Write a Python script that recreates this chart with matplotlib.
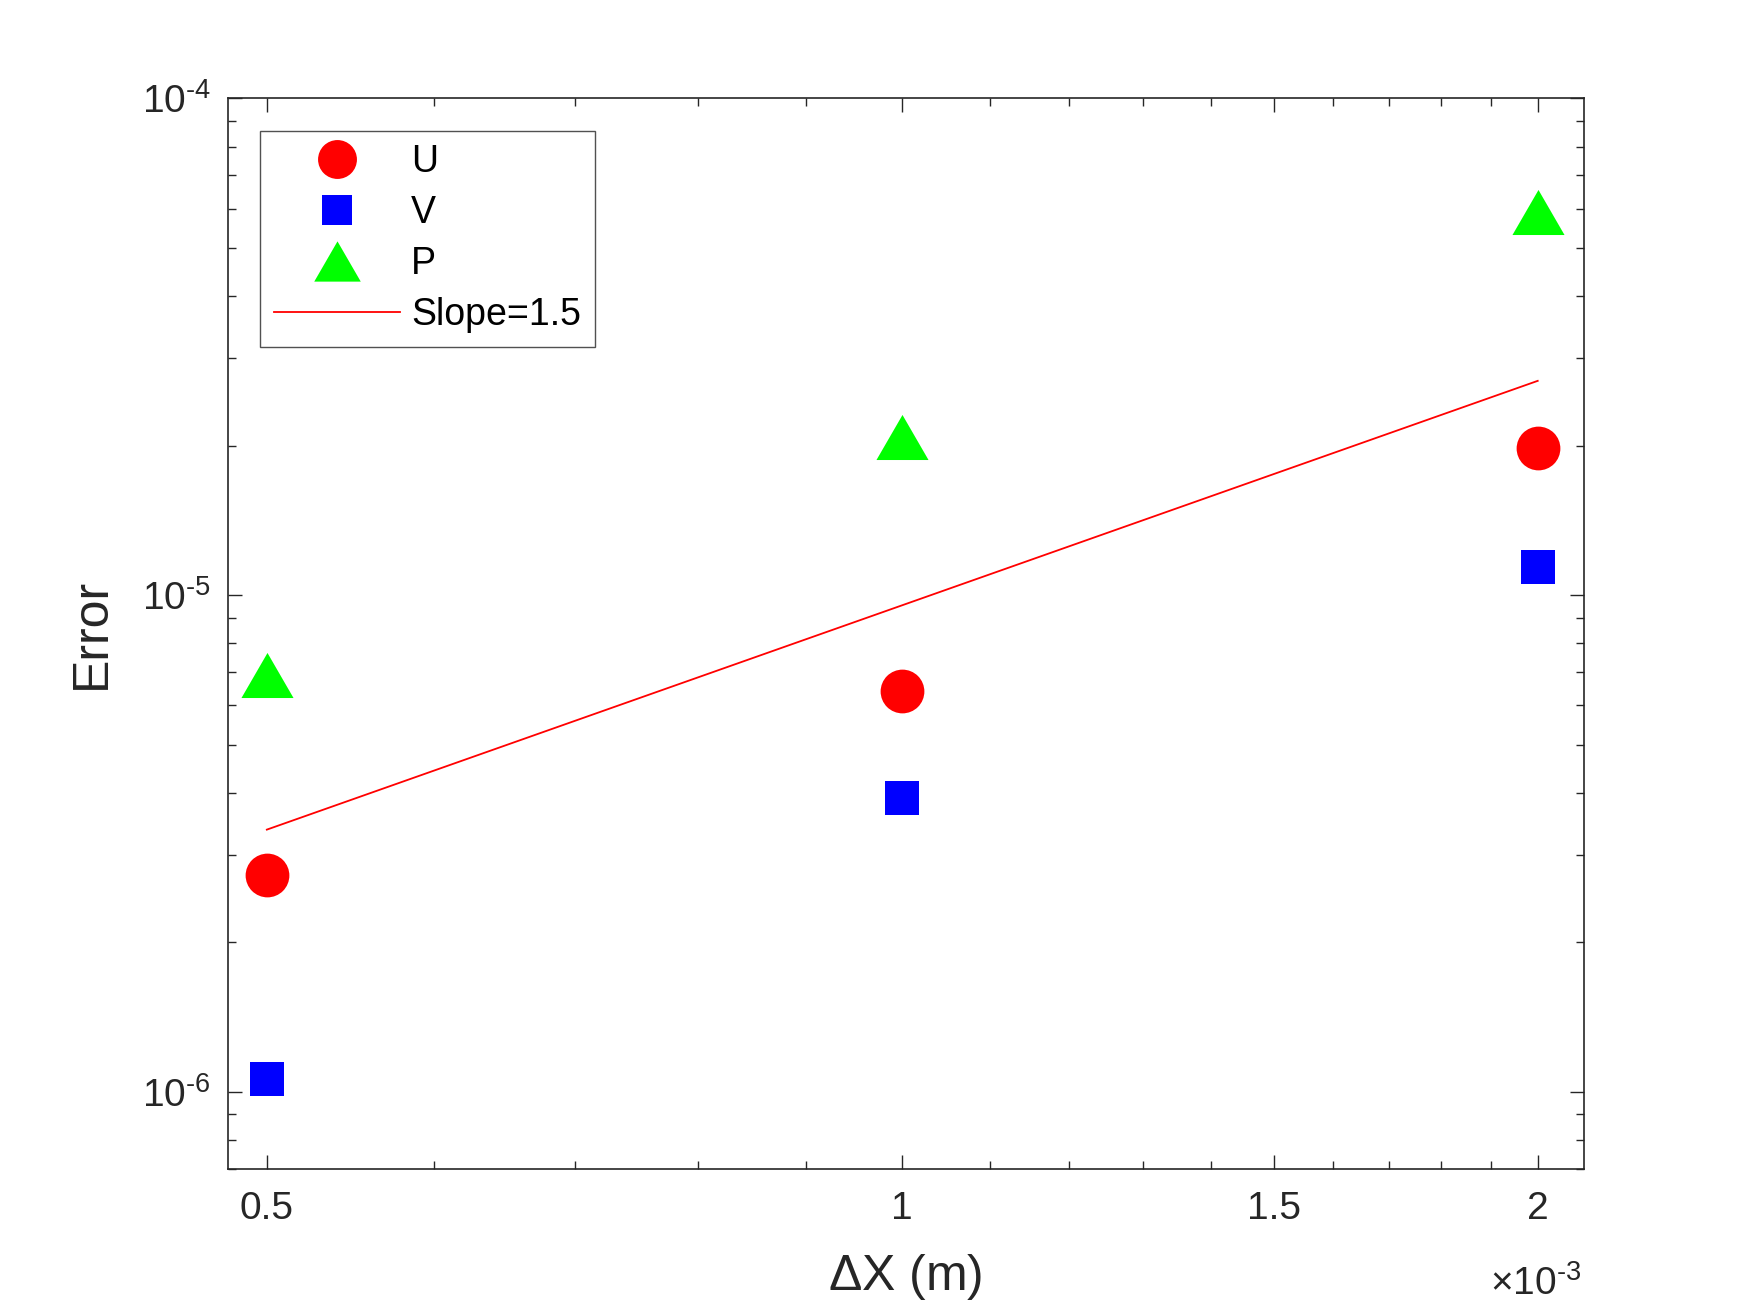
import matplotlib
matplotlib.use("Agg")
import matplotlib.pyplot as plt
from matplotlib.lines import Line2D
from matplotlib.ticker import FixedLocator, NullFormatter, LogLocator

# grid spacing and errors
dx = [0.5e-3, 1.0e-3, 2.0e-3]
err_u = [2.73e-6, 6.41e-6, 1.98e-5]
err_v = [1.06e-6, 3.90e-6, 1.14e-5]
err_p = [6.90e-6, 2.08e-5, 5.90e-5]

# reference slope line (end points)
slope_x = [0.5e-3, 2.0e-3]
slope_y = [3.37e-6, 2.70e-5]

x_major = [0.5e-3, 1.0e-3, 1.5e-3, 2.0e-3]
x_major_labels = ["0.5", "1", "1.5", "2"]
x_minor = [0.6e-3, 0.7e-3, 0.8e-3, 0.9e-3, 1.1e-3, 1.2e-3, 1.3e-3, 1.4e-3,
           1.6e-3, 1.7e-3, 1.8e-3, 1.9e-3]
y_major = [1e-6, 1e-5, 1e-4]
y_major_labels = [r"$\mathregular{10^{\text{-}6}}$", r"$\mathregular{10^{\text{-}5}}$",
                  r"$\mathregular{10^{\text{-}4}}$"]

TXT = "#262626"
plt.rcParams["font.family"] = ["Liberation Sans", "DejaVu Sans"]
plt.rcParams["mathtext.fontset"] = "custom"
plt.rcParams["mathtext.rm"] = "Liberation Sans"

# triangle a bit wider than tall, like matlab's
tri = [(-1, -0.865), (1, -0.865), (0, 0.865), (-1, -0.865)]


def main():
    fig = plt.figure(figsize=(17.5, 13.13), dpi=100)
    fig.patch.set_facecolor("#fff")
    ax = fig.add_axes([0.13, 0.11, 0.775, 0.815])

    ax.plot(dx, err_u, linestyle="none", marker="o", markersize=31.5,
            color="#ff0000", markeredgewidth=0, zorder=3)
    ax.plot(dx, err_v, linestyle="none", marker="s", markersize=25,
            color="#0000ff", markeredgewidth=0, zorder=3)
    ax.plot(dx, err_p, linestyle="none", marker=tri, markersize=37.5,
            color="#00ff00", markeredgewidth=0, zorder=3)
    ax.plot(slope_x, slope_y, color="#ff0000", linewidth=1.3, zorder=2)

    ax.set_xscale("log")
    ax.set_yscale("log")
    ax.set_xlim(0.479e-3, 2.103e-3)
    ax.set_ylim(7.0e-7, 1e-4)

    ax.xaxis.set_major_locator(FixedLocator(x_major))
    ax.xaxis.set_minor_locator(FixedLocator(x_minor))
    ax.set_xticklabels(x_major_labels)
    ax.xaxis.set_minor_formatter(NullFormatter())
    ax.yaxis.set_major_locator(FixedLocator(y_major))
    ax.set_yticklabels(y_major_labels)
    ax.yaxis.set_minor_locator(LogLocator(base=10, subs=range(2, 10)))
    ax.yaxis.set_minor_formatter(NullFormatter())

    ax.tick_params(which="both", direction="in", top=True, right=True,
                   color=TXT, labelcolor=TXT, width=1.0)
    ax.tick_params(which="major", length=10, labelsize=28)
    ax.tick_params(which="minor", length=5.5)
    ax.tick_params(axis="x", which="major", pad=16)
    ax.tick_params(axis="y", which="major", pad=12)
    for sp in ax.spines.values():
        sp.set_color(TXT)
        sp.set_linewidth(1.2)

    ax.set_xlabel(r"$\mathregular{\Delta}$X (m)", fontsize=36, color=TXT)
    ax.set_ylabel("Error", fontsize=36, color=TXT)
    ax.xaxis.set_label_coords(0.5, -0.078)
    ax.yaxis.set_label_coords(-0.083, 0.5)

    ax.text(0.9985, -0.118, r"$\mathregular{\times10^{\text{-}3}}$", transform=ax.transAxes,
            ha="right", va="baseline", fontsize=28, color=TXT)

    handles = [
        Line2D([], [], linestyle="none", marker="o", markersize=28,
               color="#ff0000", markeredgewidth=0),
        Line2D([], [], linestyle="none", marker="s", markersize=21.5,
               color="#0000ff", markeredgewidth=0),
        Line2D([], [], linestyle="none", marker=tri, markersize=33.5,
               color="#00ff00", markeredgewidth=0),
        Line2D([], [], color="#ff0000", linewidth=1.3),
    ]
    leg = ax.legend(handles, ["U", "V", "P", "Slope=1.5"], loc="upper left",
                    bbox_to_anchor=(0.0243, 0.970), borderaxespad=0,
                    fontsize=27, frameon=True, fancybox=False,
                    handlelength=3.36, handletextpad=0.3, labelspacing=0.4,
                    borderpad=0.36)
    leg.get_frame().set_edgecolor(TXT)
    leg.get_frame().set_linewidth(1.0)
    for t in leg.get_texts():
        t.set_color("#000")

    fig.savefig("out.png", dpi=100)


if __name__ == "__main__":
    main()
